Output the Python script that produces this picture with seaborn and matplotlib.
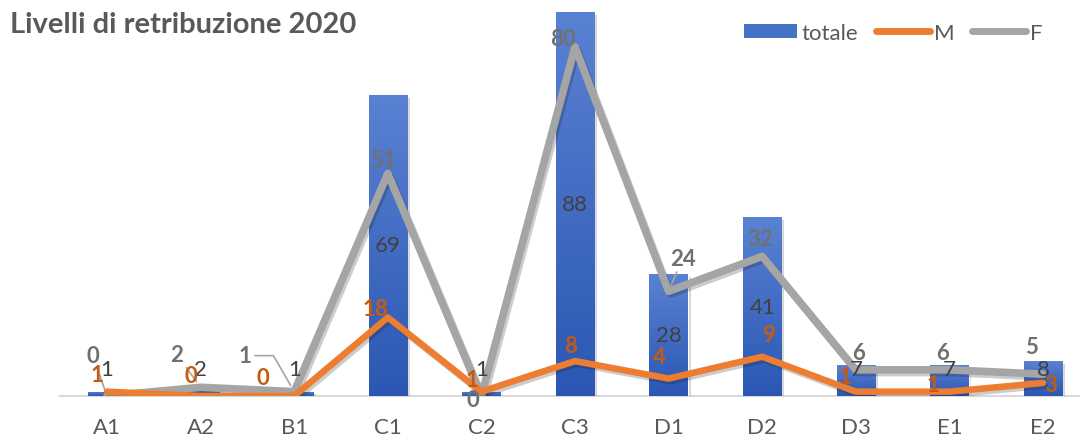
import numpy as np
import pandas as pd
import matplotlib
matplotlib.use("Agg")
import matplotlib.pyplot as plt
import seaborn as sns
from matplotlib import patheffects as pe
from matplotlib.colors import LinearSegmentedColormap
from matplotlib.patches import Patch
from matplotlib.lines import Line2D

# ---------------- data ----------------
categories = ["A1", "A2", "B1", "C1", "C2", "C3", "D1", "D2", "D3", "E1", "E2"]
totale = [1, 2, 1, 69, 1, 88, 28, 41, 7, 7, 8]
maschi = [1, 0, 0, 18, 1, 8, 4, 9, 1, 1, 3]
femmine = [0, 2, 1, 51, 0, 80, 24, 32, 6, 6, 5]
series_names = ["totale", "M", "F"]
title = "Livelli di retribuzione 2020"

# ---------------- label layout (pixel offsets from each point) ----------------
f_offsets = [(-14, 40), (-24, 33), (-49, 36), (-5, 14), (-9, -4), (-12, 8),
             (14, 33), (-2, 18), (3, 17), (-7, 17), (-12, 28)]
f_leader = [True, True, "angle", False, False, False, True, False, False, False, False]
m_offsets = [(-10, 17), (-10, 20), (-31, 18), (-12, 9), (-9, 12), (-4, 16),
             (-9, 22), (6, 22), (-11, 15), (-16, 7), (8, -2)]

# ---------------- style ----------------
BLUE_TOP = "#5A82D3"
BLUE_BOT = "#2B57B3"
BLUE = "#4472C4"
ORANGE = "#ED7D31"
GRAY = "#A5A5A5"
TXT = "#595959"

sns.set_theme(style="white")
plt.rcParams['font.family'] = ['Lato', 'DejaVu Sans']

W, H = 1080, 439
fig = plt.figure(figsize=(W / 100, H / 100), dpi=100)
ax = fig.add_axes([60.2 / W, 42 / H, 1029.6 / W, 384 / H])

df = pd.DataFrame({"cat": categories, "pos": np.arange(len(categories)),
                   "totale": totale, "M": maschi, "F": femmine})

sns.barplot(data=df, x="cat", y="totale", order=categories, color=BLUE,
            saturation=1, width=0.41, ax=ax, zorder=2)

# gradient fill + soft shadow on bars
cmap = LinearSegmentedColormap.from_list("bluegrad", [BLUE_BOT, BLUE_TOP])
grad = np.linspace(1, 0, 256).reshape(-1, 1)
for p in list(ax.patches):
    x0, w, h = p.get_x(), p.get_width(), p.get_height()
    p.set_path_effects([pe.SimplePatchShadow(offset=(2, -2), shadow_rgbFace="k", alpha=0.18), pe.Normal()])
    im = ax.imshow(grad, cmap=cmap, aspect="auto", origin="upper",
                   extent=[x0, x0 + w, 0, h], zorder=2.1, interpolation="bilinear")
    im.set_clip_path(p)

sns.lineplot(data=df, x="pos", y="F", color=GRAY, lw=5.5, ax=ax, zorder=3,
             solid_joinstyle="round", solid_capstyle="round")
ax.lines[-1].set_path_effects([pe.SimpleLineShadow(offset=(1.5, -2), alpha=0.22, shadow_color="k"), pe.Normal()])
sns.lineplot(data=df, x="pos", y="M", color=ORANGE, lw=4.7, ax=ax, zorder=4,
             solid_joinstyle="round", solid_capstyle="round")
ax.lines[-1].set_path_effects([pe.SimpleLineShadow(offset=(1.5, -2), alpha=0.22, shadow_color="k"), pe.Normal()])

ax.set_xlim(-0.5, len(categories) - 0.5)
ax.set_ylim(0, 88)
ax.set_xlabel("")
ax.set_ylabel("")
ax.set_yticks([])
ax.set_xticks(range(len(categories)))
ax.set_xticklabels(categories)
ax.tick_params(axis="x", length=0, pad=15, labelsize=16, labelcolor=TXT)
for s in ["top", "left", "right"]:
    ax.spines[s].set_visible(False)
ax.spines["bottom"].set_color("#D9D9D9")
ax.spines["bottom"].set_linewidth(1.5)
ax.spines["bottom"].set_zorder(1)

LAB = 16
# totale labels (centered in bar, lifted for small bars)
for i, v in enumerate(totale):
    ax.annotate(str(v), xy=(i, max(v / 2, 6.2)), ha="center", va="center",
                fontsize=LAB, color="#404040", zorder=10, annotation_clip=False)

# F labels
for i, v in enumerate(femmine):
    kw = {}
    if f_leader[i]:
        cs = "angle,angleA=0,angleB=120,rad=0" if f_leader[i] == "angle" else "arc3"
        kw["arrowprops"] = dict(arrowstyle="-", color=GRAY, lw=1.2, shrinkA=0, shrinkB=5,
                                connectionstyle=cs)
    ax.annotate(str(v), xy=(i, v), xytext=f_offsets[i], textcoords="offset pixels",
                ha="center", va="center", fontsize=LAB, fontweight="bold",
                color="#707070", zorder=10, annotation_clip=False, **kw)

# M labels
for i, v in enumerate(maschi):
    ax.annotate(str(v), xy=(i, v), xytext=m_offsets[i], textcoords="offset pixels",
                ha="center", va="center", fontsize=LAB, fontweight="bold",
                color="#C55A11", zorder=10, annotation_clip=False)

# title
fig.text(10 / W, 1 - 33 / H, title, ha="left", va="baseline", fontsize=21,
         fontweight="bold", color=TXT)

# legend
handles = [Patch(facecolor=BLUE, edgecolor="none"),
           Line2D([], [], color=ORANGE, lw=5, solid_capstyle="round"),
           Line2D([], [], color=GRAY, lw=5, solid_capstyle="round")]
fig.legend(handles, series_names, loc="center left", bbox_to_anchor=(744 / W, 1 - 33.5 / H),
           ncol=3, frameon=False, borderpad=0, borderaxespad=0, handlelength=2.4,
           handleheight=0.58, handletextpad=0.2, columnspacing=0.8, fontsize=16,
           labelcolor=TXT)

fig.savefig("out.png", dpi=100)
